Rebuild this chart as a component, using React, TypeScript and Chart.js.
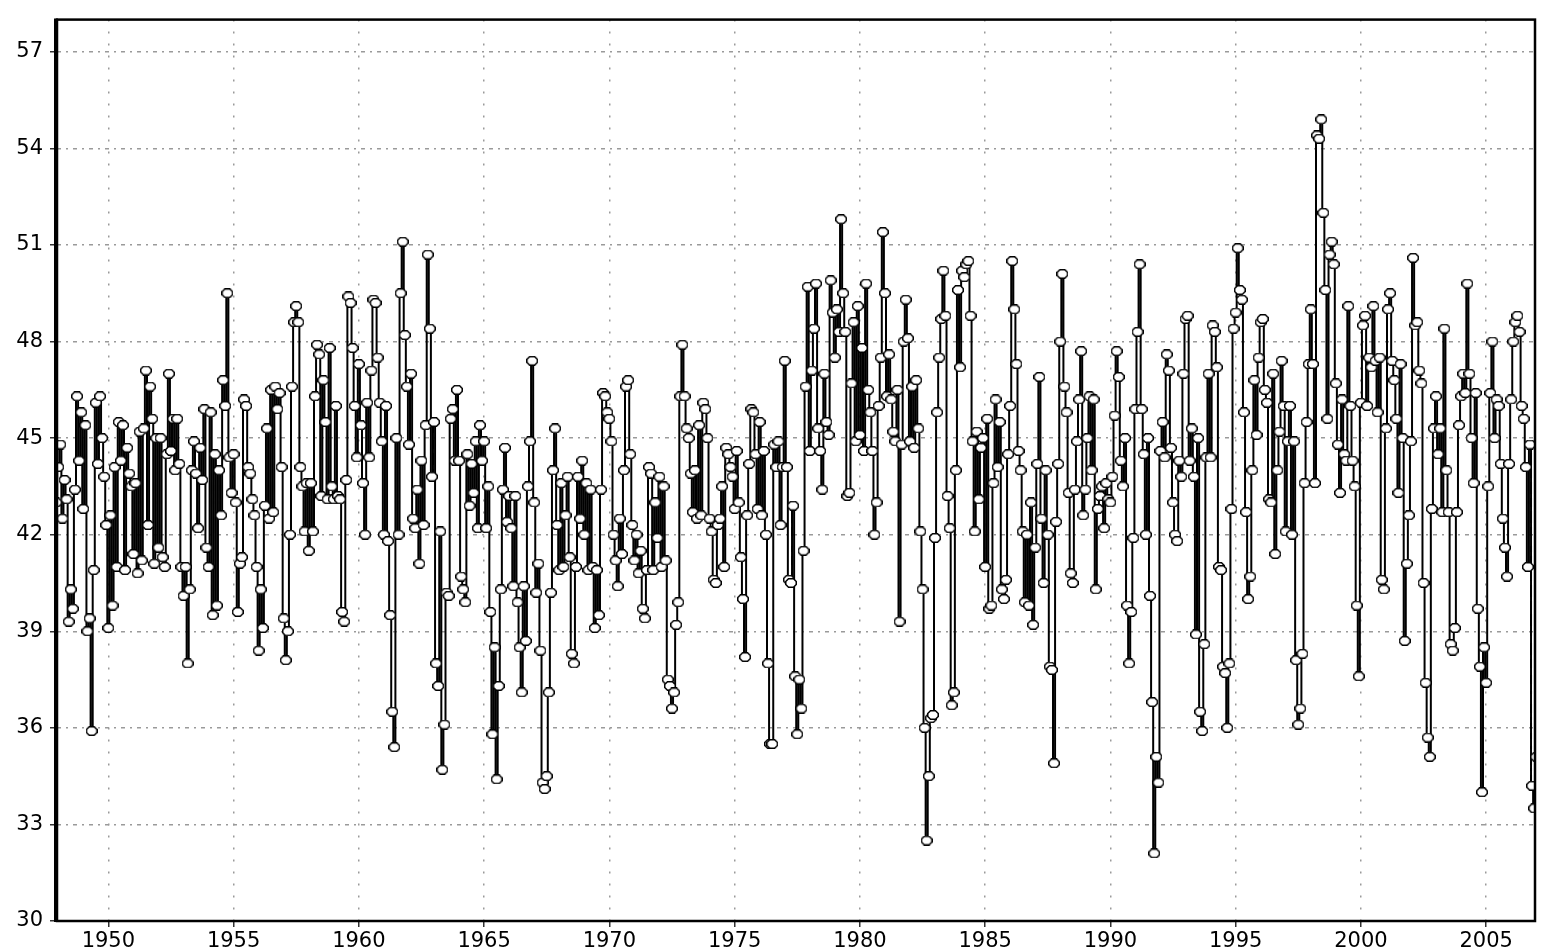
import React, { useEffect, useRef } from "react";
import { Chart, registerables } from "chart.js";

Chart.register(...registerables);

// Monthly values
const start1940s = 1947.75; // Oct 1947
const values1940s = [
  42.5, 44.2, 43.0,
  44.1, 44.8, 42.5, 43.7, 43.1, 39.3, 40.3, 39.7, 43.4, 46.3, 44.3, 45.8,
  42.8, 45.4, 39.0, 39.4, 35.9, 40.9, 46.1, 44.2, 46.3, 45.0, 43.8, 42.3,
];
const values1950s = [
  39.1, 42.6, 39.8, 44.1, 41.0, 45.5, 44.3, 45.4, 40.9, 44.7, 43.9, 43.5,
  41.4, 43.6, 40.8, 45.2, 41.2, 45.3, 47.1, 42.3, 46.6, 45.6, 41.1, 45.0,
  41.6, 45.0, 41.3, 41.0, 44.5, 47.0, 44.6, 45.6, 44.0, 45.6, 44.2, 41.0,
  40.1, 41.0, 38.0, 40.3, 44.0, 44.9, 43.9, 42.2, 44.7, 43.7, 45.9, 41.6,
  41.0, 45.8, 39.5, 44.5, 39.8, 44.0, 42.6, 46.8, 46.0, 49.5, 44.4, 43.3,
  44.5, 43.0, 39.6, 41.1, 41.3, 46.2, 46.0, 44.1, 43.9, 43.1, 42.6, 41.0,
  38.4, 40.3, 39.1, 42.9, 45.3, 42.5, 46.5, 42.7, 46.6, 45.9, 46.4, 44.1,
  39.4, 38.1, 39.0, 42.0, 46.6, 48.6, 49.1, 48.6, 44.1, 43.5, 42.1, 43.6,
  41.5, 43.6, 42.1, 46.3, 47.9, 47.6, 43.2, 46.8, 45.5, 43.1, 47.8, 43.5,
  43.1, 46.0, 43.2, 43.1, 39.6, 39.3, 43.7, 49.4, 49.2, 47.8, 46.0, 44.4,
];
const values1960s = [
  47.3, 45.4, 43.6, 42.0, 46.1, 44.4, 47.1, 49.3, 49.2, 47.5, 46.1, 44.9,
  42.0, 46.0, 41.8, 39.5, 36.5, 35.4, 45.0, 42.0, 49.5, 51.1, 48.2, 46.6,
  44.8, 47.0, 42.5, 42.2, 43.4, 41.1, 44.3, 42.3, 45.4, 50.7, 48.4, 43.8,
  45.5, 38.0, 37.3, 42.1, 34.7, 36.1, 40.2, 40.1, 45.6, 45.9, 44.3, 46.5,
  44.3, 40.7, 40.3, 39.9, 44.5, 42.9, 44.2, 43.3, 44.9, 42.2, 45.4, 44.3,
  44.9, 42.2, 43.5, 39.6, 35.8, 38.5, 34.4, 37.3, 40.3, 43.4, 44.7, 42.4,
  43.2, 42.2, 40.4, 43.2, 39.9, 38.5, 37.1, 40.4, 38.7, 43.5, 44.9, 47.4,
  43.0, 40.2, 41.1, 38.4, 34.3, 34.1, 34.5, 37.1, 40.2, 44.0, 45.3, 42.3,
  40.9, 43.6, 41.0, 42.6, 43.8, 41.3, 38.3, 38.0, 41.0, 43.8, 42.5, 44.3,
  42.0, 43.6, 40.9, 43.4, 41.0, 39.1, 40.9, 39.5, 43.4, 46.4, 46.3, 45.8,
];
const values1970s = [
  45.6, 44.9, 42.0, 41.2, 40.4, 42.5, 41.4, 44.0, 46.6, 46.8, 44.5, 42.3,
  41.2, 42.0, 40.8, 41.5, 39.7, 39.4, 40.9, 44.1, 43.9, 40.9, 43.0, 41.9,
  43.8, 41.0, 43.5, 41.2, 37.5, 37.3, 36.6, 37.1, 39.2, 39.9, 46.3, 47.9,
  46.3, 45.3, 45.0, 43.9, 42.7, 44.0, 42.5, 45.4, 42.6, 46.1, 45.9, 45.0,
  42.5, 42.1, 40.6, 40.5, 42.3, 42.5, 43.5, 41.0, 44.7, 44.5, 44.1, 43.8,
  42.8, 44.6, 43.0, 41.3, 40.0, 38.2, 42.6, 44.2, 45.9, 45.8, 44.5, 42.8,
  45.5, 42.6, 44.6, 42.0, 38.0, 35.5, 35.5, 44.8, 44.1, 44.9, 42.3, 44.1,
  47.4, 44.1, 40.6, 40.5, 42.9, 37.6, 35.8, 37.5, 36.6, 41.5, 46.6, 49.7,
  44.6, 47.1, 48.4, 49.8, 45.3, 44.6, 43.4, 47.0, 45.5, 45.1, 49.9, 48.9,
  47.5, 49.0, 48.3, 51.8, 49.5, 48.3, 43.2, 43.3, 46.7, 48.6, 44.9, 49.1,
];
const values1980s = [
  45.1, 47.8, 44.6, 49.8, 46.5, 45.8, 44.6, 42.0, 43.0, 46.0, 47.5, 51.4,
  49.5, 46.3, 47.6, 46.2, 45.2, 44.9, 46.5, 39.3, 44.8, 48.0, 49.3, 48.1,
  44.9, 46.6, 44.7, 46.8, 45.3, 42.1, 40.3, 36.0, 32.5, 34.5, 36.3, 36.4,
  41.9, 45.8, 47.5, 48.7, 50.2, 48.8, 43.2, 42.2, 36.7, 37.1, 44.0, 49.6,
  47.2, 50.2, 50.0, 50.4, 50.5, 48.8, 44.9, 42.1, 45.2, 43.1, 44.7, 45.0,
  41.0, 45.6, 39.7, 39.8, 43.6, 46.2, 44.1, 45.5, 40.3, 40.0, 40.6, 44.5,
  46.0, 50.5, 49.0, 47.3, 44.6, 44.0, 42.1, 39.9, 42.0, 39.8, 43.0, 39.2,
  41.6, 44.2, 46.9, 42.5, 40.5, 44.0, 42.0, 37.9, 37.8, 34.9, 42.4, 44.2,
  48.0, 50.1, 46.6, 45.8, 43.3, 40.8, 40.5, 43.4, 44.9, 46.2, 47.7, 42.6,
  43.4, 45.0, 46.3, 44.0, 46.2, 40.3, 42.8, 43.2, 43.5, 42.2, 43.6, 43.1,
];
const values1990s = [
  43.0, 43.8, 45.7, 47.7, 46.9, 44.3, 43.5, 45.0, 39.8, 38.0, 39.6, 41.9,
  45.9, 48.3, 50.4, 45.9, 44.5, 42.0, 45.0, 40.1, 36.8, 32.1, 35.1, 34.3,
  44.6, 45.5, 44.4, 47.6, 47.1, 44.7, 43.0, 42.0, 41.8, 44.3, 43.8, 47.0,
  48.7, 48.8, 44.3, 45.3, 43.8, 38.9, 45.0, 36.5, 35.9, 38.6, 44.4, 47.0,
  44.4, 48.5, 48.3, 47.2, 41.0, 40.9, 37.9, 37.7, 36.0, 38.0, 42.8, 48.4,
  48.9, 50.9, 49.6, 49.3, 45.8, 42.7, 40.0, 40.7, 44.0, 46.8, 45.1, 47.5,
  48.6, 48.7, 46.5, 46.1, 43.1, 43.0, 47.0, 41.4, 44.0, 45.2, 47.4, 46.0,
  42.1, 44.9, 46.0, 42.0, 44.9, 38.1, 36.1, 36.6, 38.3, 43.6, 45.5, 47.3,
  49.0, 47.3, 43.6, 54.4, 54.3, 54.9, 52.0, 49.6, 45.6, 50.7, 51.1, 50.4,
  46.7, 44.8, 43.3, 46.2, 44.5, 44.3, 49.1, 46.0, 44.3, 43.5, 39.8, 37.6,
];
const values2000s = [
  46.1, 48.5, 48.8, 46.0, 47.5, 47.2, 49.1, 47.4, 45.8, 47.5, 40.6, 40.3,
  45.3, 49.0, 49.5, 47.4, 46.8, 45.6, 43.3, 47.3, 45.0, 38.7, 41.1, 42.6,
  44.9, 50.6, 48.5, 48.6, 47.1, 46.7, 40.5, 37.4, 35.7, 35.1, 42.8, 45.3,
  46.3, 44.5, 45.3, 42.7, 48.4, 44.0, 42.7, 38.6, 38.4, 39.1, 42.7, 45.4,
  46.3, 47.0, 46.4, 49.8, 47.0, 45.0, 43.6, 46.4, 39.7, 37.9, 34.0, 38.5,
  37.4, 43.5, 46.4, 48.0, 45.0, 46.2, 46.0, 44.2, 42.5, 41.6, 40.7, 44.2,
  46.2, 48.0, 48.6, 48.8, 48.3, 46.0, 45.6, 44.1, 41.0, 44.8, 34.2, 33.5,
  35.1, 42.7, 49.9, 47.5,
];

const segments: [number, number[]][] = [
  [start1940s, values1940s],
  [1950, values1950s],
  [1960, values1960s],
  [1970, values1970s],
  [1980, values1980s],
  [1990, values1990s],
  [2000, values2000s],
];

const yTicks = [30, 33, 36, 39, 42, 45, 48, 51, 54, 57];
const xTicks = [1950, 1955, 1960, 1965, 1970, 1975, 1980, 1985, 1990, 1995, 2000, 2005];

const X_MIN = 1947.95;
const X_MAX = 2006.95;
const Y_MIN = 30;
const Y_MAX = 58.0;

function buildPoints() {
  const pts: { x: number; y: number }[] = [];
  segments.forEach(([s, vals]) => {
    vals.forEach((v, i) => pts.push({ x: s + i / 12, y: v }));
  });
  return pts;
}

function makeMarker() {
  const c = document.createElement("canvas");
  c.width = 12;
  c.height = 10;
  const g = c.getContext("2d")!;
  g.beginPath();
  g.moveTo(0.75, 3.5);
  g.lineTo(3.5, 0.75);
  g.lineTo(8.5, 0.75);
  g.lineTo(11.25, 3.5);
  g.lineTo(11.25, 6.5);
  g.lineTo(8.5, 9.25);
  g.lineTo(3.5, 9.25);
  g.lineTo(0.75, 6.5);
  g.closePath();
  g.fillStyle = "#ffffff";
  g.fill();
  g.strokeStyle = "#000000";
  g.lineWidth = 1.5;
  g.stroke();
  return c;
}

const framePlugin = {
  id: "frame",
  afterDraw(chart: any) {
    const { ctx, chartArea } = chart;
    const { left, top, right, bottom } = chartArea;
    ctx.save();
    ctx.strokeStyle = "#000";
    ctx.lineWidth = 2.5;
    ctx.strokeRect(left, top, right - left, bottom - top);
    ctx.lineWidth = 4;
    ctx.beginPath();
    ctx.moveTo(left - 1, top - 1);
    ctx.lineTo(left - 1, bottom + 1);
    ctx.stroke();
    ctx.restore();
  },
};

export default function App() {
  const ref = useRef<HTMLCanvasElement | null>(null);
  useEffect(() => {
    if (!ref.current) return;
    const marker = makeMarker();
    const font = { family: "'DejaVu Sans', sans-serif", size: 21 };
    const chart = new Chart(ref.current, {
      type: "line",
      data: {
        datasets: [
          {
            data: buildPoints(),
            borderColor: "#000",
            borderWidth: 2,
            stepped: "middle",
            pointStyle: marker as any,
            pointRadius: 5,
            backgroundColor: "#fff",
            tension: 0,
          },
        ],
      },
      options: {
        animation: false,
        responsive: false,
        parsing: false as any,
        layout: { padding: { top: 10, right: 3, left: 0, bottom: 0 } },
        plugins: { legend: { display: false }, tooltip: { enabled: false } },
        scales: {
          x: {
            type: "linear",
            min: X_MIN,
            max: X_MAX,
            afterBuildTicks: (s: any) => {
              s.ticks = xTicks.map((v) => ({ value: v }));
            },
            afterFit: (s: any) => {
              s.height = 30;
            },
            ticks: {
              color: "#000",
              font,
              padding: 2,
              maxRotation: 0,
              autoSkip: false,
              callback: (v: any) => String(v),
            },
            grid: { color: "#9a9a9a", tickColor: "#333", tickLength: 6, lineWidth: 1.5 },
            border: { display: false, dash: [2, 10] },
          },
          y: {
            type: "linear",
            min: Y_MIN,
            max: Y_MAX,
            afterBuildTicks: (s: any) => {
              s.ticks = yTicks.map((v) => ({ value: v }));
            },
            afterFit: (s: any) => {
              s.width = 57;
            },
            ticks: { color: "#000", font, padding: 7, callback: (v: any) => String(v) },
            grid: { color: "#9a9a9a", tickColor: "#333", tickLength: 7, lineWidth: 1.5 },
            border: { display: false, dash: [4, 5, 2, 5] },
          },
        },
      },
      plugins: [framePlugin],
    });
    return () => chart.destroy();
  }, []);
  return (
    <div style={{ position: "absolute", left: 0, top: 0, width: 1542, height: 951, background: "#fff" }}>
      <canvas ref={ref} width={1542} height={951} style={{ display: "block" }} />
    </div>
  );
}
